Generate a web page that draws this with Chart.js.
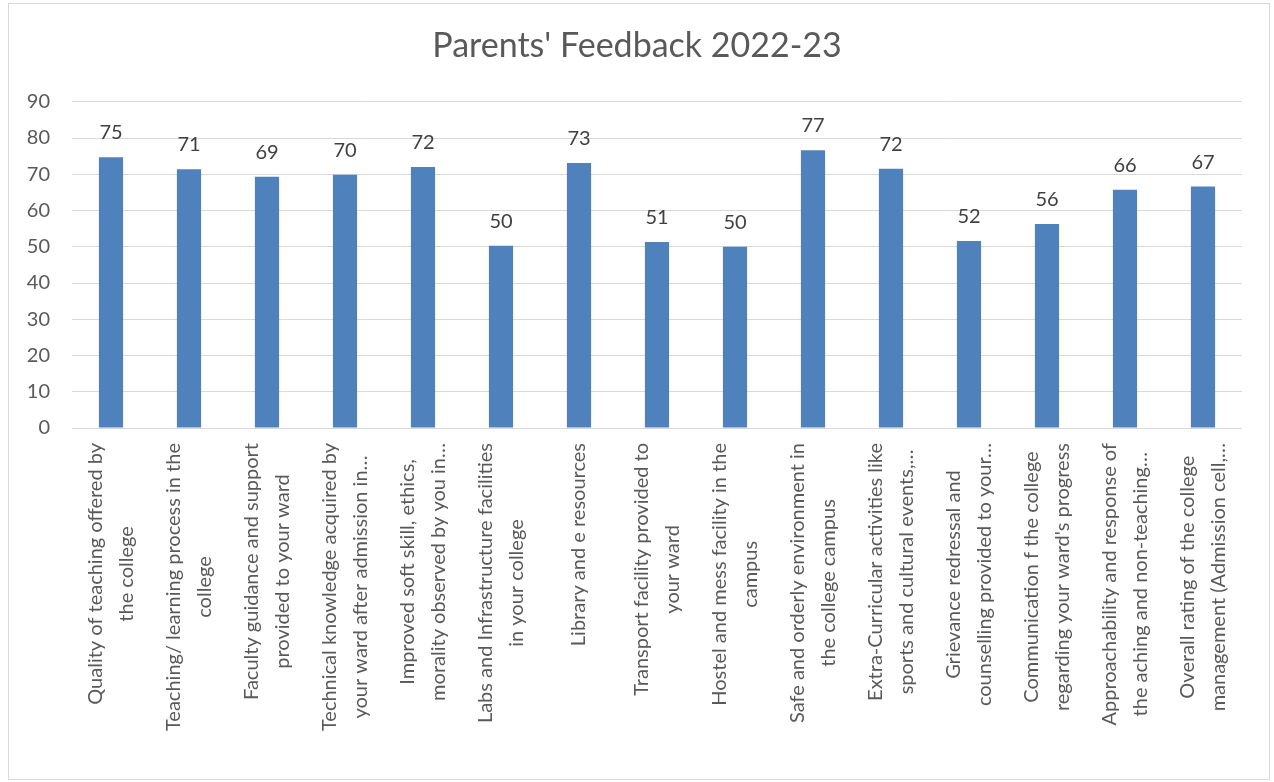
<!DOCTYPE html>
<html>
<head>
<meta charset="utf-8">
<script src="https://cdn.jsdelivr.net/npm/chart.js@4/dist/chart.umd.min.js"></script>
<style>
  body { margin: 0; background: #ffffff; }
  #wrap { position: relative; width: 1274px; height: 782px; }
</style>
</head>
<body>
<div id="wrap"><canvas id="feedback" width="1274" height="782"></canvas></div>
<script>
// Category labels, already wrapped in two lines like the original
var categories = [
  ['Quality of teaching offered by', 'the college'],
  ['Teaching/ learning process in the', 'college'],
  ['Faculty guidance and support', 'provided to your ward'],
  ['Technical knowledge acquired by', 'your ward after admission in…'],
  ['Improved soft skill, ethics,', 'morality observed by you in…'],
  ['Labs and Infrastructure facilities', 'in your college'],
  ['Library and e resources'],
  ['Transport facility provided to', 'your ward'],
  ['Hostel and mess facility in the', 'campus'],
  ['Safe and orderly environment in', 'the college campus'],
  ['Extra-Curricular activities like', 'sports and cultural events,…'],
  ['Grievance redressal and', 'counselling provided to your…'],
  ['Communication f the college', 'regarding your ward\'s progress'],
  ['Approachability and response of', 'the aching and non-teaching…'],
  ['Overall rating of the college', 'management (Admission cell,…']
];

// Scores (bar heights)
var scores = [74.7, 71.4, 69.3, 69.9, 72.0, 50.3, 73.1, 51.3, 50.0, 76.6, 71.5, 51.6, 56.3, 65.7, 66.6];

// Numbers printed above each bar
var scoreLabels = [75, 71, 69, 70, 72, 50, 73, 51, 50, 77, 72, 52, 56, 66, 67];

var yTicks = { min: 0, max: 90, step: 10 };

var FONT = 'Lato, "Open Sans", sans-serif';

// frame around the whole chart
var framePlugin = {
  id: 'frame',
  beforeDraw: function(chart) {
    var ctx = chart.ctx;
    ctx.save();
    ctx.fillStyle = '#ffffff';
    ctx.fillRect(0, 0, chart.width, chart.height);
    ctx.strokeStyle = '#d9d9d9';
    ctx.lineWidth = 1;
    ctx.strokeRect(8.5, 3.5, 1261, 776);
    ctx.restore();
  }
};

// value labels above bars
var valueLabelPlugin = {
  id: 'valueLabels',
  afterDatasetsDraw: function(chart) {
    var ctx = chart.ctx;
    var meta = chart.getDatasetMeta(0);
    ctx.save();
    ctx.font = '20px ' + FONT;
    ctx.fillStyle = '#404040';
    ctx.textAlign = 'center';
    ctx.textBaseline = 'alphabetic';
    meta.data.forEach(function(bar, i) {
      ctx.fillText(String(scoreLabels[i]), bar.x, bar.y - 18);
    });
    ctx.restore();
  }
};

// rotated category labels, lines centered on each other, top-aligned under the axis
var categoryLabelPlugin = {
  id: 'categoryLabels',
  afterDraw: function(chart) {
    var ctx = chart.ctx;
    var xScale = chart.scales.x;
    var top = chart.chartArea.bottom + 15;
    var lineGap = 31;
    ctx.save();
    ctx.font = '20px ' + FONT;
    ctx.fillStyle = '#595959';
    ctx.textAlign = 'center';
    ctx.textBaseline = 'middle';
    categories.forEach(function(lines, i) {
      var x = xScale.getPixelForTick(i);
      var widest = Math.max.apply(null, lines.map(function(l) { return ctx.measureText(l).width; }));
      var midY = top + widest / 2;
      lines.forEach(function(line, j) {
        var offset = (j - (lines.length - 1) / 2) * lineGap;
        ctx.save();
        ctx.translate(x + offset, midY);
        ctx.rotate(-Math.PI / 2);
        ctx.fillText(line, 0, 0);
        ctx.restore();
      });
    });
    ctx.restore();
  }
};

var ctx = document.getElementById('feedback').getContext('2d');

var chartInstance = new Chart(ctx, {
  type: 'bar',
  data: {
    labels: categories.map(function(c) { return c.join(' '); }),
    datasets: [{
      label: 'Parents\' Feedback 2022-23',
      data: scores,
      backgroundColor: '#4f81bd',
      borderWidth: 0,
      barPercentage: 0.31,
      categoryPercentage: 1
    }]
  },
  options: {
    responsive: false,
    animation: false,
    layout: {
      padding: { top: 0, left: 8, right: 8, bottom: 346 }
    },
    plugins: {
      legend: { display: false },
      tooltip: { enabled: false },
      title: {
        display: true,
        text: 'Parents\' Feedback 2022-23',
        color: '#595959',
        font: { family: FONT, size: 34, weight: 'normal' },
        padding: { top: 26, bottom: 35 }
      }
    },
    scales: {
      x: {
        grid: { display: false },
        border: { display: false },
        ticks: { display: false }
      },
      y: {
        min: yTicks.min,
        max: yTicks.max,
        border: { display: false },
        grid: { color: '#d9d9d9', lineWidth: 1, drawTicks: false },
        afterFit: function(scale) { scale.width = 64; },
        ticks: {
          stepSize: yTicks.step,
          color: '#595959',
          padding: 22,
          font: { family: FONT, size: 20 }
        }
      },
      // empty right-hand spacer so the plot ends where the original does
      yRight: {
        position: 'right',
        min: yTicks.min,
        max: yTicks.max,
        border: { display: false },
        grid: { display: false },
        ticks: { display: false },
        afterFit: function(scale) { scale.width = 24; }
      }
    }
  },
  plugins: [framePlugin, valueLabelPlugin, categoryLabelPlugin]
});
</script>
</body>
</html>
